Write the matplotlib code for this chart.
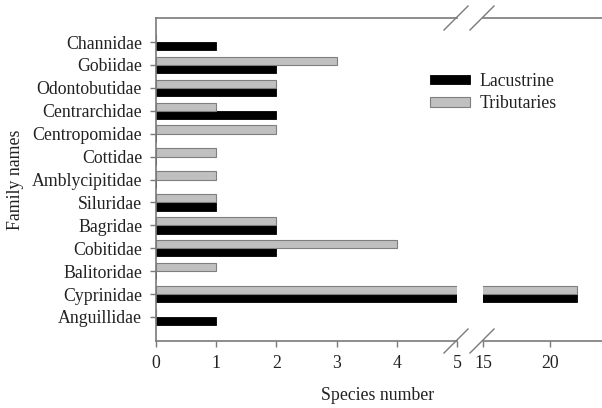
import matplotlib
matplotlib.use("Agg")
import matplotlib.pyplot as plt
from matplotlib.lines import Line2D
import numpy as np

plt.rcParams['font.family'] = ['Liberation Serif', 'DejaVu Serif']

families = ["Channidae", "Gobiidae", "Odontobutidae", "Centrarchidae", "Centropomidae",
            "Cottidae", "Amblycipitidae", "Siluridae", "Bagridae", "Cobitidae",
            "Balitoridae", "Cyprinidae", "Anguillidae"]
lacustrine = [1, 2, 2, 2, 0, 0, 0, 1, 2, 2, 0, 22, 1]
tributaries = [0, 3, 2, 1, 2, 1, 1, 1, 2, 4, 1, 22, 0]
left_ticks = [0, 1, 2, 3, 4, 5]
right_ticks = [15, 20]

W, H = 602, 408
fig = plt.figure(figsize=(W/100, H/100), dpi=100)

def fx(px):
    return px / W

def fy(py):
    return 1 - py / H

ax1 = fig.add_axes([fx(156), fy(341), fx(457) - fx(156), fy(18) - fy(341)])
ax2 = fig.add_axes([fx(483), fy(341), 1 - fx(483), fy(18) - fy(341)])

n = len(families)
pos = np.arange(n)[::-1]
h = 0.36
spine_col = '#7a7a7a'
txt_col = '#222222'
fs = 12.8

for ax in (ax1, ax2):
    ax.barh(pos - h/2, lacustrine, height=h, color='black', edgecolor='black', linewidth=0.6, label='Lacustrine')
    ax.barh(pos + h/2, tributaries, height=h, color='#c0c0c0', edgecolor='#7f7f7f', linewidth=0.8, label='Tributaries')
    ax.set_ylim(-1.05, n - 1 + 1.05)
    for s in ax.spines.values():
        s.set_color(spine_col)
        s.set_linewidth(1.2)
    ax.spines['right'].set_visible(False)
    ax.tick_params(axis='both', direction='out', length=4, width=1, color=spine_col,
                   labelsize=fs, labelcolor=txt_col, pad=6)

ax1.set_xlim(0, 5)
ax1.set_xticks(left_ticks)
ax1.set_yticks(pos)
ax1.set_yticklabels(families)
ax2.set_xlim(15, 15 + (602 - 483) / 13.4)
ax2.set_xticks(right_ticks)
ax2.spines['left'].set_visible(False)
ax2.set_yticks([])

# break marks
for xc in (456, 482):
    for yc in (18, 341):
        fig.add_artist(Line2D([fx(xc - 12), fx(xc + 12)], [fy(yc + 12), fy(yc - 12)],
                              color=spine_col, linewidth=1.0, transform=fig.transFigure))

fig.text(fx(16), fy(180), "Family names", rotation=90, ha='center', va='center',
         fontsize=fs, color=txt_col)
fig.text(fx(378), fy(396), "Species number", ha='center', va='center',
         fontsize=fs, color=txt_col)

handles, labels = ax1.get_legend_handles_labels()
fig.legend(handles, labels, loc='upper left', bbox_to_anchor=(fx(414), fy(57)),
           frameon=False, fontsize=fs, handlelength=2.25, handleheight=0.45,
           handletextpad=0.55, labelspacing=0.3, labelcolor=txt_col)

fig.savefig("out.png", dpi=100)
